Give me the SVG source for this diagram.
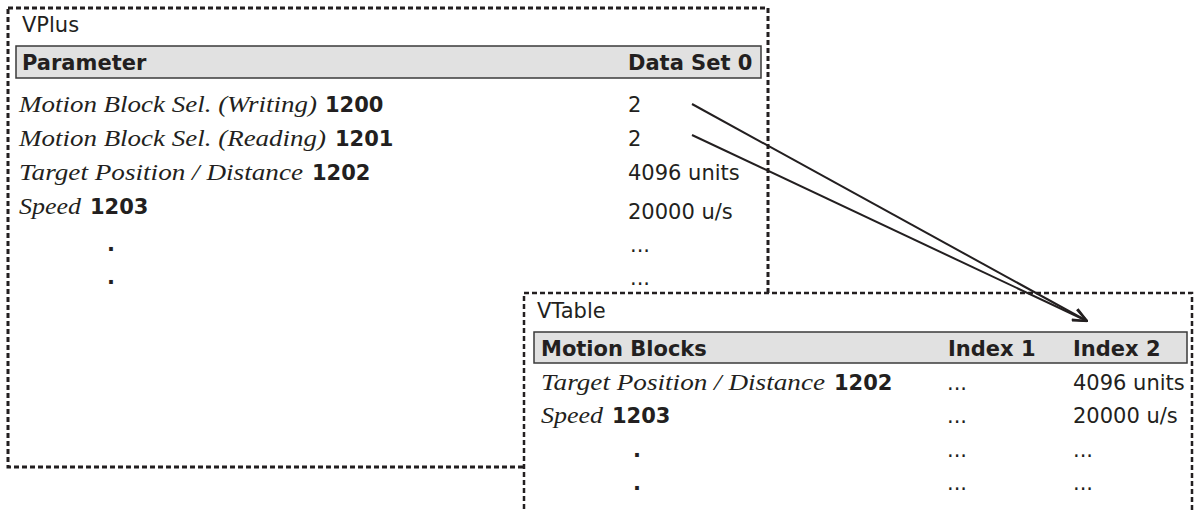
<svg xmlns="http://www.w3.org/2000/svg" width="1196" height="511" viewBox="0 0 1196 511">
<style>
.box{fill:#fff;stroke:#231f20;stroke-width:3;stroke-dasharray:5 3}
.bar{fill:#e1e1e1;stroke:#3a3a3a;stroke-width:1.5}
.sans{font-family:"DejaVu Sans","Liberation Sans",sans-serif;font-size:21px;fill:#231f20}
.b{font-weight:bold}
.it{font-family:"Liberation Serif","Times New Roman",serif;font-style:italic;font-size:24px;fill:#231f20}
.conn{stroke:#231f20;stroke-width:2;fill:none}
</style>
<defs>
<marker id="arr" viewBox="0 0 16 14" refX="15" refY="7" markerWidth="16" markerHeight="14" markerUnits="userSpaceOnUse" orient="auto">
<path d="M1,1 L15,7 L1,13" fill="none" stroke="#231f20" stroke-width="2.2"/>
</marker>
</defs>
<rect width="1196" height="511" fill="#fff"/>
<g id="vplus">
<rect class="box" x="8" y="8" width="760" height="459"/>
<text class="sans" x="22" y="32">VPlus</text>
<rect class="bar" x="16" y="46" width="745" height="32"/>
<text class="sans b" x="22" y="70">Parameter</text>
<text class="sans b" x="628" y="70">Data Set 0</text>
<text class="it" x="19" y="112" textLength="298" lengthAdjust="spacingAndGlyphs">Motion Block Sel. (Writing)</text>
<text class="sans b" x="325" y="112">1200</text>
<text class="it" x="19" y="146" textLength="307" lengthAdjust="spacingAndGlyphs">Motion Block Sel. (Reading)</text>
<text class="sans b" x="335" y="146">1201</text>
<text class="it" x="19" y="180" textLength="284" lengthAdjust="spacingAndGlyphs">Target Position / Distance</text>
<text class="sans b" x="312" y="180">1202</text>
<text class="it" x="19" y="214" textLength="62" lengthAdjust="spacingAndGlyphs">Speed</text>
<text class="sans b" x="90" y="214">1203</text>
<text class="sans" x="628" y="112">2</text>
<text class="sans" x="628" y="146">2</text>
<text class="sans" x="628" y="180">4096 units</text>
<text class="sans" x="628" y="219">20000 u/s</text>
<text class="sans b" x="107" y="251">.</text>
<text class="sans b" x="107" y="284">.</text>
<text class="sans" x="630" y="252">...</text>
<text class="sans" x="630" y="285">...</text>
</g>
<g id="vtable">
<rect class="box" x="524" y="293" width="668" height="240" style="stroke-width:2.5"/>
<text class="sans" x="537" y="318">VTable</text>
<rect class="bar" x="534" y="332" width="653" height="31"/>
<text class="sans b" x="541" y="356">Motion Blocks</text>
<text class="sans b" x="948" y="356">Index 1</text>
<text class="sans b" x="1073" y="356">Index 2</text>
<text class="it" x="541" y="390" textLength="284" lengthAdjust="spacingAndGlyphs">Target Position / Distance</text>
<text class="sans b" x="834" y="390">1202</text>
<text class="it" x="541" y="423" textLength="62" lengthAdjust="spacingAndGlyphs">Speed</text>
<text class="sans b" x="612" y="423">1203</text>
<text class="sans b" x="633" y="457">.</text>
<text class="sans b" x="633" y="490">.</text>
<text class="sans" x="947" y="390">...</text>
<text class="sans" x="947" y="423">...</text>
<text class="sans" x="947" y="457">...</text>
<text class="sans" x="947" y="490">...</text>
<text class="sans" x="1073" y="390">4096 units</text>
<text class="sans" x="1073" y="423">20000 u/s</text>
<text class="sans" x="1073" y="457">...</text>
<text class="sans" x="1073" y="490">...</text>
</g>
<g id="connectors">
<line class="conn" x1="692" y1="104" x2="1087" y2="321" marker-end="url(#arr)"/>
<line class="conn" x1="692" y1="135" x2="1087" y2="321" marker-end="url(#arr)"/>
</g>
</svg>
